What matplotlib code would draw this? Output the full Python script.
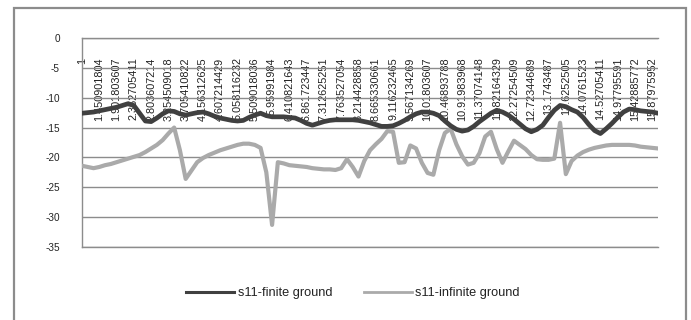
import matplotlib
matplotlib.use("Agg")
import matplotlib.pyplot as plt
from matplotlib.patches import Rectangle
from matplotlib.lines import Line2D

plt.rcParams['font.family'] = ['Liberation Sans', 'DejaVu Sans']
plt.rcParams['axes.unicode_minus'] = False

# category tick labels (every 3rd category is labelled)
x_labels = ['1', '1.450901804', '1.901803607', '2.352705411', '2.803607214',
            '3.254509018', '3.705410822', '4.156312625', '4.607214429',
            '5.058116232', '5.509018036', '5.95991984', '6.410821643',
            '6.861723447', '7.312625251', '7.763527054', '8.214428858',
            '8.665330661', '9.116232465', '9.567134269', '10.01803607',
            '10.46893788', '10.91983968', '11.37074148', '11.82164329',
            '12.27254509', '12.72344689', '13.1743487', '13.6252505',
            '14.0761523', '14.52705411', '14.97795591', '15.42885772',
            '15.87975952']
label_step = 3

s11_finite = [
    -12.6, -12.5, -12.4, -12.2, -12.0, -11.8, -11.6, -11.3, -11.0, -11.3,
    -12.6, -13.9, -14.0, -13.4, -12.7, -12.2, -12.3, -12.7, -12.9, -12.7,
    -12.5, -12.4, -12.7, -13.1, -13.4, -13.6, -13.8, -13.9, -13.8, -13.3,
    -12.9, -12.6, -13.0, -13.2, -13.2, -13.2, -13.3, -13.4, -13.8, -14.3,
    -14.6, -14.3, -14.0, -13.8, -13.7, -13.7, -13.7, -13.7, -13.8, -14.0,
    -14.2, -14.5, -14.8, -14.8, -14.7, -14.3, -13.8, -13.2, -12.7, -12.4,
    -12.4, -12.6, -13.0, -13.9, -14.7, -15.3, -15.6, -15.4, -14.8, -14.0,
    -13.3, -12.6, -12.1, -12.4, -12.9, -13.6, -14.4, -15.2, -15.7, -15.3,
    -14.6, -13.3, -12.1, -11.3, -11.5, -12.0, -12.4, -13.3, -14.5, -15.5,
    -16.0, -15.2, -14.3, -13.3, -12.4, -11.9, -12.0, -12.2, -12.3, -12.4,
    -12.6]

s11_infinite = [
    -21.4, -21.6, -21.8, -21.6, -21.3, -21.1, -20.8, -20.5, -20.2, -19.9,
    -19.6, -19.1, -18.5, -17.9, -17.1, -16.0, -15.0, -18.8, -23.6, -22.2,
    -20.8, -20.1, -19.6, -19.2, -18.8, -18.5, -18.2, -17.9, -17.7, -17.7,
    -17.9, -18.4, -22.5, -31.3, -20.8, -21.0, -21.3, -21.4, -21.5, -21.6,
    -21.8, -21.9, -22.0, -22.0, -22.1, -21.8, -20.3, -21.6, -23.2, -20.6,
    -18.8, -17.8, -16.9, -15.6, -15.7, -20.9, -20.8, -18.0, -18.5, -20.9,
    -22.6, -22.9, -18.8, -15.9, -15.2, -17.8, -19.8, -21.2, -20.9, -19.3,
    -16.5, -15.7, -18.6, -20.9, -19.0, -17.2, -17.9, -18.6, -19.6, -20.3,
    -20.4, -20.4, -20.2, -14.2, -22.8, -20.6, -19.7, -19.1, -18.7, -18.4,
    -18.2, -18.0, -17.9, -17.9, -17.9, -17.9, -18.0, -18.2, -18.3, -18.4,
    -18.5]

y_ticks = [0, -5, -10, -15, -20, -25, -30, -35]
y_tick_labels = ['0', '-5', '-10', '-15', '-20', '-25', '-30', '-35']

series_names = ['s11-finite ground', 's11-infinite ground']

W, H = 691, 320
fig = plt.figure(figsize=(W / 100, H / 100), dpi=100)
fig.patch.set_facecolor('white')

# outer chart border
fig.patches.append(Rectangle((14 / W, -0.01), 672 / W, 1 - 8 / H + 0.01,
                             transform=fig.transFigure, fill=False,
                             edgecolor='#8c8c8c', linewidth=1.6))

ax = fig.add_axes([82 / W, 1 - 247 / H, 576 / W, 209 / H])
xs = list(range(len(s11_finite)))
ax.plot(xs, s11_finite, color='#404040', linewidth=3.4,
        solid_joinstyle='round', solid_capstyle='round', zorder=3)
ax.plot(xs, s11_infinite, color='#aaaaaa', linewidth=3.0,
        solid_joinstyle='round', solid_capstyle='round', zorder=2.8)

ax.set_xlim(0, len(xs) - 1)
ax.set_ylim(-35, 0)

ax.set_yticks(y_ticks)
ax.set_yticklabels(y_tick_labels, fontsize=7.2, color='#222222')
ax.tick_params(axis='y', length=0, pad=16)

ax.set_xticks(list(range(0, len(xs), label_step))[:len(x_labels)])
ax.set_xticklabels(x_labels, rotation=90, fontsize=7.8, color='#222222')
ax.xaxis.tick_top()
ax.tick_params(axis='x', length=0, pad=-14)
for t in ax.xaxis.get_major_ticks():
    t.label2.set_verticalalignment('top')
    t.label2.set_rotation(90)

ax.yaxis.grid(True, color='#8c8c8c', linewidth=1.0)
ax.xaxis.grid(False)
ax.spines['right'].set_visible(False)
for side in ['left', 'top', 'bottom']:
    ax.spines[side].set_color('#8c8c8c')
    ax.spines[side].set_linewidth(1.0)
ax.set_facecolor('white')

h1 = Line2D([], [], color='#404040', linewidth=2.2)
h2 = Line2D([], [], color='#aaaaaa', linewidth=2.0)
fig.legend([h1, h2], series_names, loc='center',
           bbox_to_anchor=(353 / W, 1 - 293 / H), ncol=2, frameon=False,
           fontsize=9.2, handlelength=3.75, handletextpad=0.25,
           columnspacing=2.5, labelcolor='#222222')

fig.savefig('out.png', dpi=100, facecolor='white')
